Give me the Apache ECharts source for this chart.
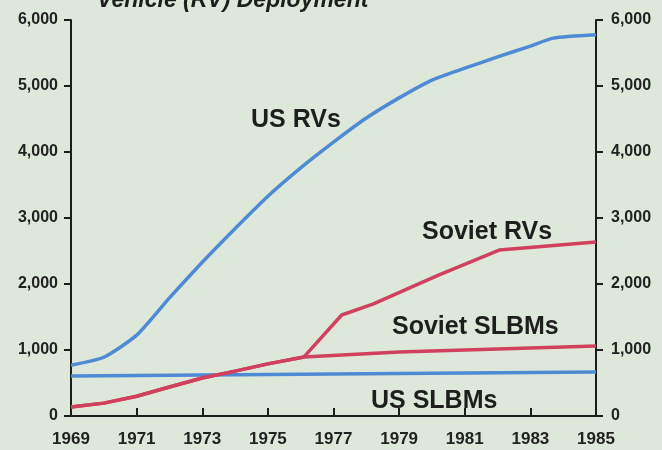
<!DOCTYPE html>
<html>
<head>
<meta charset="utf-8">
<script src="https://cdn.jsdelivr.net/npm/echarts@6/dist/echarts.min.js"></script>
<style>
  html, body { margin: 0; padding: 0; background: #dde8da; }
  #main { width: 662px; height: 450px; }
</style>
</head>
<body>
<div id="main"></div>
<script>
// data: [year, count]
var usRVs = [[1969, 770], [1970, 890], [1971, 1225], [1972, 1790], [1973, 2330],
  [1973.8, 2740], [1975, 3330], [1976, 3760], [1977, 4150], [1978, 4515],
  [1979, 4820], [1980, 5090], [1981, 5270], [1982, 5440], [1983, 5605],
  [1983.7, 5725], [1985, 5775]];
var usSLBMs = [[1969, 605], [1985, 665]];
var sovietEarly = [[1969, 135], [1970, 195], [1971, 300], [1972, 440], [1973, 575],
  [1974, 680], [1975, 790], [1976.1, 895]];
var sovietRVs = sovietEarly.concat([[1977.25, 1530], [1978.2, 1695], [1980.2, 2135],
  [1982.05, 2515], [1985, 2635]]);
var sovietSLBMs = sovietEarly.concat([[1979, 970], [1982, 1015], [1985, 1060]]);
var labels = ["US RVs", "Soviet RVs", "Soviet SLBMs", "US SLBMs"];

var chartDom = document.getElementById("main");
var myChart = echarts.init(chartDom);
var option;

var axisCol = "#1c1c1c";
var blue = "#4f8ad4";
var red = "#d0405f";
var font = "'Liberation Sans', Arial, sans-serif";

function yAxisCfg(pos) {
  return {
    type: "value",
    position: pos,
    min: 0,
    max: 6000,
    interval: 1000,
    axisLine: { show: true, lineStyle: { color: axisCol, width: 2 } },
    axisTick: { show: true, inside: false, length: 7, lineStyle: { color: axisCol, width: 2 } },
    axisLabel: {
      margin: pos === "left" ? 13 : 15,
      color: "#222",
      fontFamily: font,
      fontWeight: "bold",
      fontSize: 16,
      formatter: function (v) { return v.toLocaleString("en-US"); },
    },
    splitLine: { show: false },
  };
}

function tag(text, x, y) {
  return {
    type: "text", x: x, y: y,
    style: { text: text, font: "bold 25px " + font, fill: "#1e1e1e", textVerticalAlign: "middle" },
  };
}

option = {
  backgroundColor: "#dde8da",
  animation: false,
  grid: { left: 71, right: 66, top: 20, bottom: 34 },
  xAxis: {
    type: "value",
    min: 1969,
    max: 1985,
    interval: 2,
    axisLine: { onZero: false, lineStyle: { color: axisCol, width: 2 } },
    axisTick: { show: true, inside: true, length: 8, lineStyle: { color: axisCol, width: 2 } },
    axisLabel: {
      margin: 15,
      color: "#222",
      fontFamily: font,
      fontWeight: "bold",
      fontSize: 17,
      formatter: function (v) { return String(v); },
    },
    splitLine: { show: false },
  },
  yAxis: [yAxisCfg("left"), yAxisCfg("right")],
  graphic: [
    { type: "text", x: 97, y: 1, style: { text: "Vehicle (RV) Deployment", font: "italic bold 23px " + font, fill: "#1e1e1e", textVerticalAlign: "middle" } },
    tag(labels[0], 251, 120),
    tag(labels[1], 422, 232),
    tag(labels[2], 392, 327),
    tag(labels[3], 371, 401),
  ],
  series: [
    { name: labels[3], type: "line", data: usSLBMs, symbol: "none", lineStyle: { color: blue, width: 3.5 } },
    { name: labels[2], type: "line", data: sovietSLBMs, symbol: "none", lineStyle: { color: red, width: 3.5 } },
    { name: labels[1], type: "line", data: sovietRVs, symbol: "none", lineStyle: { color: red, width: 3.5 } },
    { name: labels[0], type: "line", data: usRVs, symbol: "none", smooth: 0.2, lineStyle: { color: blue, width: 3.5 } },
  ],
};

option && myChart.setOption(option);
</script>
</body>
</html>
